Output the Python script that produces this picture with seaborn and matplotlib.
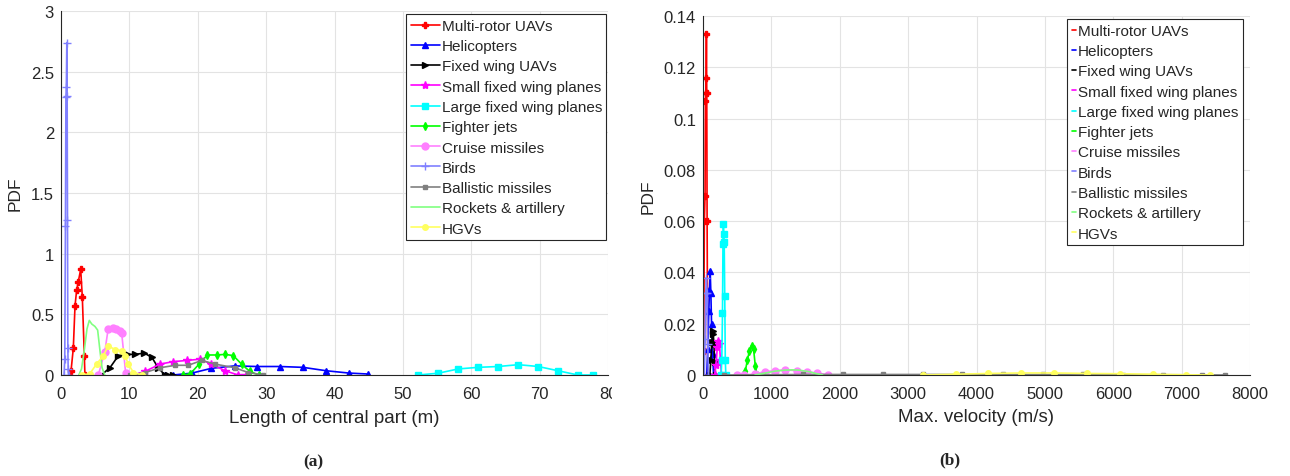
import numpy as np
import pandas as pd
import matplotlib
matplotlib.use("Agg")
import matplotlib.pyplot as plt
import seaborn as sns
from matplotlib.lines import Line2D
from matplotlib.transforms import Bbox, TransformedBbox

# ---------------- data: panel (a) length of central part (m) ----------------
names = ["Multi-rotor UAVs", "Helicopters", "Fixed wing UAVs", "Small fixed wing planes",
         "Large fixed wing planes", "Fighter jets", "Cruise missiles", "Birds",
         "Ballistic missiles", "Rockets & artillery", "HGVs"]

len_multirotor_x = [1.46, 1.8, 2.05, 2.29, 2.53, 2.88, 3.12, 3.41, 3.5]
len_multirotor_y = [0.03, 0.22, 0.57, 0.70, 0.77, 0.87, 0.64, 0.16, 0.0]
len_heli_x = [15.2, 16.4, 19.1, 22.0, 25.4, 28.6, 32.0, 35.4, 38.8, 42.1, 44.9]
len_heli_y = [0.0, 0.0, 0.015, 0.055, 0.075, 0.07, 0.07, 0.063, 0.035, 0.016, 0.008]
len_fwuav_x = [5.9, 7.16, 8.4, 9.6, 10.8, 12.2, 13.3, 14.2, 15.2, 15.7, 16.4]
len_fwuav_y = [0.0, 0.06, 0.16, 0.17, 0.17, 0.18, 0.145, 0.06, 0.0, 0.0, 0.0]
len_small_x = [10.6, 12.3, 14.5, 16.4, 18.4, 20.3, 22.0, 24.0, 25.9, 27.1]
len_small_y = [0.0, 0.03, 0.09, 0.11, 0.12, 0.13, 0.09, 0.035, 0.0, 0.0]
len_large_x = [52.2, 55.2, 58.1, 61.0, 63.9, 66.9, 69.8, 72.7, 75.6, 77.8]
len_large_y = [0.0, 0.015, 0.05, 0.063, 0.07, 0.085, 0.07, 0.035, 0.0, 0.0]
len_fighter_x = [17.9, 18.9, 20.2, 21.4, 22.8, 24.0, 25.2, 26.4, 27.6, 28.9]
len_fighter_y = [0.0, 0.01, 0.09, 0.165, 0.165, 0.17, 0.16, 0.09, 0.03, 0.0]
len_cruise_x = [5.46, 6.4, 6.9, 7.65, 8.1, 8.6, 8.87, 9.45, 10.5]
len_cruise_y = [0.0, 0.19, 0.38, 0.39, 0.38, 0.365, 0.35, 0.02, 0.0]
len_birds_x = [0.45, 0.55, 0.65, 0.72, 0.78, 0.85, 0.9, 0.95, 1.0, 1.05, 1.1]
len_birds_y = [0.0, 0.13, 1.23, 2.29, 2.37, 2.74, 2.30, 1.28, 0.22, 0.05, 0.0]
len_ballistic_x = [10.1, 12.3, 14.5, 16.7, 18.6, 20.6, 22.5, 25.4, 27.4, 29.6]
len_ballistic_y = [0.0, 0.02, 0.06, 0.08, 0.08, 0.12, 0.09, 0.06, 0.02, 0.0]
len_rockets_x = [2.6, 3.0, 3.4, 3.8, 4.14, 4.5, 4.97, 5.36, 5.7, 6.0, 6.4]
len_rockets_y = [0.0, 0.05, 0.2, 0.38, 0.45, 0.42, 0.40, 0.37, 0.2, 0.06, 0.0]
len_hgv_x = [3.0, 4.2, 5.2, 6.2, 6.9, 7.9, 8.9, 9.35, 9.85, 10.6, 11.9]
len_hgv_y = [0.0, 0.01, 0.09, 0.16, 0.24, 0.21, 0.20, 0.16, 0.09, 0.02, 0.0]

# ---------------- data: panel (b) max. velocity (m/s) ----------------
vel_multirotor_x = [10, 20, 30, 35, 40, 45, 50, 55, 60, 70]
vel_multirotor_y = [0.0095, 0.060, 0.070, 0.107, 0.110, 0.116, 0.133, 0.110, 0.06, 0.0]
vel_heli_x = [55, 70, 85, 95, 105, 115, 125, 140, 155]
vel_heli_y = [0.0, 0.01, 0.025, 0.033, 0.0407, 0.032, 0.02, 0.008, 0.0]
vel_fwuav_x = [100, 115, 130, 140, 150, 160, 170, 185]
vel_fwuav_y = [0.0, 0.006, 0.013, 0.017, 0.016, 0.012, 0.005, 0.0]
vel_small_x = [170, 190, 210, 225, 240, 255, 270]
vel_small_y = [0.0, 0.004, 0.011, 0.0134, 0.012, 0.006, 0.0]
vel_large_x = [265, 275, 285, 292, 298, 304, 310, 318, 326, 334]
vel_large_y = [0.0, 0.006, 0.024, 0.051, 0.059, 0.055, 0.052, 0.031, 0.006, 0.0]
vel_fighter_x = [590, 620, 650, 680, 710, 740, 765, 790]
vel_fighter_y = [0.0, 0.0017, 0.006, 0.0095, 0.0114, 0.010, 0.0036, 0.0]
vel_cruise_x = [493, 604, 760, 906, 1053, 1199, 1370, 1516, 1662, 1832]
vel_cruise_y = [0.0, 0.0, 0.0004, 0.0013, 0.0017, 0.0020, 0.0017, 0.0013, 0.0008, 0.0]
vel_birds_x = [20, 30, 40, 50, 60, 70, 80]
vel_birds_y = [0.0, 0.014, 0.032, 0.038, 0.032, 0.012, 0.0]
vel_ballistic_x = [300, 880, 1465, 2050, 2636, 3220, 3782, 4391, 4976, 5561, 6146, 6731, 7292, 7632]
vel_ballistic_y = [0.0, 0.0001, 0.0002, 0.0002, 0.0002, 0.0002, 0.0002, 0.0002, 0.0002,
                   0.0002, 0.0001, 0.0001, 0.00005, 0.0]
vel_rockets_x = [760, 900, 1050, 1200, 1300, 1400, 1550, 1650, 1750]
vel_rockets_y = [0.0, 0.0007, 0.0015, 0.0019, 0.0020, 0.0019, 0.0013, 0.0006, 0.0]
vel_hgv_x = [3212, 3699, 4171, 4658, 5135, 5623, 6094, 6582, 7060, 7411]
vel_hgv_y = [0.0, 0.0003, 0.0006, 0.0008, 0.0008, 0.0006, 0.0005, 0.0003, 0.0001, 0.0]

len_data = [(len_multirotor_x, len_multirotor_y), (len_heli_x, len_heli_y),
            (len_fwuav_x, len_fwuav_y), (len_small_x, len_small_y),
            (len_large_x, len_large_y), (len_fighter_x, len_fighter_y),
            (len_cruise_x, len_cruise_y), (len_birds_x, len_birds_y),
            (len_ballistic_x, len_ballistic_y), (len_rockets_x, len_rockets_y),
            (len_hgv_x, len_hgv_y)]
vel_data = [(vel_multirotor_x, vel_multirotor_y), (vel_heli_x, vel_heli_y),
            (vel_fwuav_x, vel_fwuav_y), (vel_small_x, vel_small_y),
            (vel_large_x, vel_large_y), (vel_fighter_x, vel_fighter_y),
            (vel_cruise_x, vel_cruise_y), (vel_birds_x, vel_birds_y),
            (vel_ballistic_x, vel_ballistic_y), (vel_rockets_x, vel_rockets_y),
            (vel_hgv_x, vel_hgv_y)]

# ---------------- styles ----------------
colors = ["#ff0000", "#0000ff", "#000000", "#ff00ff", "#00ffff", "#00ff00",
          "#ff80ff", "#8080ff", "#808080", "#80ff80", "#ffff60"]
markers = ["P", "^", ">", "*", "s", "d", "o", "+", "s", None, "o"]
msizes = [4, 5, 5, 6, 5, 4, 5, 6, 3, 0, 4]

sns.set_style("whitegrid")
plt.rcParams['font.family'] = ['Liberation Sans', 'DejaVu Sans']

fig = plt.figure(figsize=(12.9, 4.77), dpi=100)
axA = fig.add_axes([61 / 1290, 101 / 477, 547 / 1290, 364 / 477])
axB = fig.add_axes([703 / 1290, 101 / 477, 547 / 1290, 359 / 477])

TXT = "#262626"


def draw(ax, data):
    for i, (xs, ys) in enumerate(data):
        df = pd.DataFrame({"x": xs, "y": ys})
        kw = dict(color=colors[i], linewidth=1.2, label=names[i])
        if markers[i] is not None:
            kw.update(marker=markers[i], markersize=msizes[i],
                      markeredgecolor=colors[i], markerfacecolor=colors[i],
                      markeredgewidth=1.0)
        sns.lineplot(data=df, x="x", y="y", ax=ax, sort=False, estimator=None, **kw)


draw(axA, len_data)
draw(axB, vel_data)

for ax in (axA, axB):
    ax.grid(True, color="#e3e3e3", linewidth=0.8)
    ax.set_axisbelow(True)
    for s in ("top", "right"):
        ax.spines[s].set_visible(False)
    for s in ("left", "bottom"):
        ax.spines[s].set_color(TXT)
        ax.spines[s].set_linewidth(0.8)
    ax.tick_params(direction="in", length=4, width=0.8, color=TXT,
                   labelsize=12, labelcolor=TXT)
    ax.tick_params(axis="x", pad=8)
    ax.tick_params(axis="y", pad=5)

axA.set_xlim(0, 80)
axA.set_ylim(0, 3)
axA.set_xticks(np.arange(0, 81, 10))
axA.set_yticks([0, 0.5, 1, 1.5, 2, 2.5, 3])
axA.set_yticklabels(["0", "0.5", "1", "1.5", "2", "2.5", "3"])
axA.set_xlabel("Length of central part (m)", fontsize=13.5, color=TXT, labelpad=6)
axA.set_ylabel("PDF", fontsize=12.5, color=TXT, labelpad=6)

axB.set_xlim(0, 8000)
axB.set_ylim(0, 0.14)
axB.set_xticks(np.arange(0, 8001, 1000))
axB.set_yticks([0, 0.02, 0.04, 0.06, 0.08, 0.1, 0.12, 0.14])
axB.set_yticklabels(["0", "0.02", "0.04", "0.06", "0.08", "0.1", "0.12", "0.14"])
axB.set_xlabel("Max. velocity (m/s)", fontsize=13.5, color=TXT, labelpad=5)
axB.set_ylabel("PDF", fontsize=12.5, color=TXT, labelpad=6)

legA = axA.legend(loc="upper right", bbox_to_anchor=(1.0, 0.995), fontsize=11,
                  frameon=True, fancybox=False, edgecolor=TXT, framealpha=1,
                  handlelength=1.9, handletextpad=0.1, borderpad=0.3, labelspacing=0.41,
                  borderaxespad=0.1)
legA.get_frame().set_linewidth(0.8)

handlesB = [Line2D([0], [0], color=colors[i], linewidth=1.2) for i in range(len(names))]
legB = axB.legend(handlesB, names, loc="upper right", bbox_to_anchor=(0.99, 0.995), fontsize=11,
                  frameon=True, fancybox=False, edgecolor=TXT, framealpha=1,
                  handlelength=0.25, handletextpad=0.15, borderpad=0.3, labelspacing=0.41,
                  borderaxespad=0.1)
legB.get_frame().set_linewidth(0.8)

fig.text(313 / 1290, 1 - 462 / 477, "(a)", fontsize=12.5, fontweight="bold",
         family="Liberation Serif", ha="center", va="center")
fig.text(950 / 1290, 1 - 460 / 477, "(b)", fontsize=12.5, fontweight="bold",
         family="Liberation Serif", ha="center", va="center")

fig.canvas.draw()
last = axA.xaxis.get_major_ticks()[-1].label1
last.set_clip_box(TransformedBbox(Bbox([[0, 0], [612 / 1290, 1]]), fig.transFigure))
last.set_clip_on(True)

fig.savefig("out.png", dpi=100)
